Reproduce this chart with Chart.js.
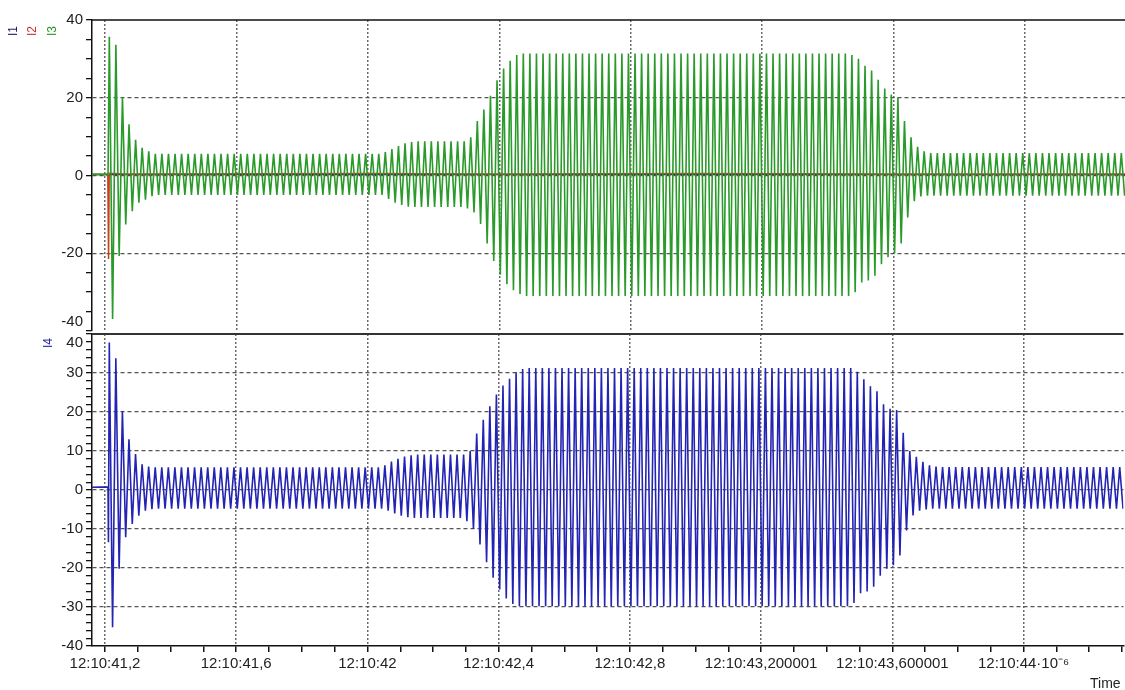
<!DOCTYPE html>
<html>
<head>
<meta charset="utf-8">
<script src="https://cdn.jsdelivr.net/npm/chart.js@4.4.1/dist/chart.umd.min.js"></script>
<style>
  html, body { margin:0; padding:0; background:#fff; }
  #wrap { position:relative; width:1125px; height:690px; overflow:hidden; font-family:"Liberation Sans", Arial, sans-serif; }
  #top-box { position:absolute; left:0; top:0; }
  #bot-box { position:absolute; left:0; top:313px; }
  .ch-name { position:absolute; font-size:12px; line-height:12px; white-space:nowrap; transform:translate(-50%,-50%) rotate(-90deg); }
  #time-label { position:absolute; left:1090px; top:675px; font-size:14px; line-height:16px; color:#222; }
</style>
</head>
<body>
<div id="wrap">
  <canvas id="top-box" width="1125" height="352"></canvas>
  <canvas id="bot-box" width="1125" height="377"></canvas>
  <div class="ch-name" style="left:13px;top:31px;color:#1a1a6e">I1</div>
  <div class="ch-name" style="left:32px;top:31px;color:#c83232">I2</div>
  <div class="ch-name" style="left:52px;top:31px;color:#2a9a2a">I3</div>
  <div class="ch-name" style="left:48px;top:343px;color:#2828a8">I4</div>
  <div id="time-label">Time</div>
</div>
<script>
// time axis (seconds of 12:10)
const X_MIN = 41.1604, X_MAX = 44.3043;
const timeTicks  = [41.2, 41.6, 42.0, 42.4, 42.8, 43.2, 43.6, 44.0];
const timeLabels = ['12:10:41,2', '12:10:41,6', '12:10:42', '12:10:42,4', '12:10:42,8',
                    '12:10:43,200001', '12:10:43,600001', '12:10:44\u00b710\u207b\u2076'];

// waveform: first peak time and half period (50 Hz)
const firstPeakTime = 41.2131;
const halfPeriod = 0.01;

// I3 (top panel, green): values before the first peak, then peak / trough of every cycle
const i3Lead = [[41.16, 0.3], [41.2092, 0.3]];
const i3Peaks = [
  35.7, 33.6, 20.1, 13.2, 9.2, 7.1, 6.2, 5.6, 5.6, 5.6,
  5.6, 5.6, 5.6, 5.6, 5.6, 5.6, 5.6, 5.6, 5.6, 5.6,
  5.6, 5.6, 5.6, 5.6, 5.6, 5.6, 5.6, 5.6, 5.6, 5.6,
  5.6, 5.6, 5.6, 5.6, 5.6, 5.6, 5.6, 5.6, 5.6, 5.6,
  5.6, 5.6, 6.0, 6.8, 7.6, 8.3, 8.6, 8.8, 8.8, 8.8,
  8.8, 8.8, 8.8, 8.8, 8.8, 9.8, 14.0, 17.0, 20.5, 24.5,
  27.5, 29.5, 31.0, 31.4, 31.4, 31.4, 31.4, 31.4, 31.4, 31.4,
  31.4, 31.4, 31.4, 31.4, 31.4, 31.4, 31.4, 31.4, 31.4, 31.4,
  31.4, 31.4, 31.4, 31.4, 31.4, 31.4, 31.4, 31.4, 31.4, 31.4,
  31.4, 31.4, 31.4, 31.4, 31.4, 31.4, 31.4, 31.4, 31.4, 31.4,
  31.4, 31.4, 31.4, 31.4, 31.4, 31.4, 31.4, 31.4, 31.4, 31.4,
  31.4, 31.4, 31.4, 31.0, 30.0, 28.2, 27.0, 24.6, 22.4, 20.8,
  20.0, 14.0, 9.8, 7.4, 6.2, 5.8, 5.8, 5.8, 5.8, 5.8,
  5.8, 5.8, 5.8, 5.8, 5.8, 5.8, 5.8, 5.8, 5.8, 5.8,
  5.8, 5.8, 5.8, 5.8, 5.8, 5.8, 5.8, 5.8, 5.8, 5.8,
  5.8, 5.8, 5.8, 5.8, 5.8
];
const i3Troughs = [
  -36.9, -20.7, -12.6, -9.2, -7.0, -6.2, -5.3, -5.0, -5.0, -5.0,
  -5.0, -5.0, -5.0, -5.0, -5.0, -5.0, -5.0, -5.0, -5.0, -5.0,
  -5.0, -5.0, -5.0, -5.0, -5.0, -5.0, -5.0, -5.0, -5.0, -5.0,
  -5.0, -5.0, -5.0, -5.0, -5.0, -5.0, -5.0, -5.0, -5.0, -5.0,
  -5.0, -5.0, -6.0, -7.0, -7.6, -8.0, -8.1, -8.1, -8.1, -8.1,
  -8.1, -8.1, -8.1, -8.1, -8.5, -9.5, -12.5, -17.5, -22.0, -25.5,
  -28.0, -29.5, -30.5, -31.0, -31.0, -31.0, -31.0, -31.0, -31.0, -31.0,
  -31.0, -31.0, -31.0, -31.0, -31.0, -31.0, -31.0, -31.0, -31.0, -31.0,
  -31.0, -31.0, -31.0, -31.0, -31.0, -31.0, -31.0, -31.0, -31.0, -31.0,
  -31.0, -31.0, -31.0, -31.0, -31.0, -31.0, -31.0, -31.0, -31.0, -31.0,
  -31.0, -31.0, -31.0, -31.0, -31.0, -31.0, -31.0, -31.0, -31.0, -31.0,
  -31.0, -31.0, -31.0, -30.0, -27.5, -27.0, -25.8, -22.8, -21.0, -20.0,
  -17.5, -10.8, -6.6, -5.4, -5.2, -5.2, -5.2, -5.2, -5.2, -5.2,
  -5.2, -5.2, -5.2, -5.2, -5.2, -5.2, -5.2, -5.2, -5.2, -5.2,
  -5.2, -5.2, -5.2, -5.2, -5.2, -5.2, -5.2, -5.2, -5.2, -5.2,
  -5.2, -5.2, -5.2, -5.2, -5.2
];

// I1 / I2 stay near zero; I2 has one spike at the switching instant
const i1Times  = [41.16, 44.31];
const i1Values = [0.2, 0.2];
const i2Times  = [41.16, 41.2085, 41.2108, 41.2128, 41.26, 42.0, 42.4, 43.0, 43.6, 44.31];
const i2Values = [0.3, 0.3, -21.5, 0.6, 0.4, 0.5, 0.4, 0.5, 0.4, 0.4];

// I4 (bottom panel, blue)
const i4Lead = [[41.16, 0.7], [41.2092, 0.8], [41.2105, -13.4]];
const i4Peaks = [
  37.8, 33.8, 20.2, 13.0, 9.2, 6.6, 6.0, 5.8, 5.8, 5.8,
  5.8, 5.8, 5.8, 5.8, 5.8, 5.8, 5.8, 5.8, 5.8, 5.8,
  5.8, 5.8, 5.8, 5.8, 5.8, 5.8, 5.8, 5.8, 5.8, 5.8,
  5.8, 5.8, 5.8, 5.8, 5.8, 5.8, 5.8, 5.8, 5.8, 5.8,
  5.8, 5.8, 6.3, 7.3, 8.0, 8.6, 8.9, 9.1, 9.1, 9.1,
  9.1, 9.1, 9.1, 9.1, 9.1, 10.0, 14.5, 18.0, 21.5, 24.5,
  26.8, 28.5, 30.2, 31.0, 31.3, 31.3, 31.3, 31.3, 31.3, 31.3,
  31.3, 31.3, 31.3, 31.3, 31.3, 31.3, 31.3, 31.3, 31.3, 31.3,
  31.3, 31.3, 31.3, 31.3, 31.3, 31.3, 31.3, 31.3, 31.3, 31.3,
  31.3, 31.3, 31.3, 31.3, 31.3, 31.3, 31.3, 31.3, 31.3, 31.3,
  31.3, 31.3, 31.3, 31.3, 31.3, 31.3, 31.3, 31.3, 31.3, 31.3,
  31.3, 31.3, 31.3, 31.3, 30.3, 28.4, 26.6, 25.3, 22.0, 20.8,
  20.5, 14.7, 10.0, 8.5, 7.2, 6.3, 6.0, 5.9, 5.9, 5.9,
  5.9, 5.9, 5.9, 5.9, 5.9, 5.9, 5.9, 5.9, 5.9, 5.9,
  5.9, 5.9, 5.9, 5.9, 5.9, 5.9, 5.9, 5.9, 5.9, 5.9,
  5.9, 5.9, 5.9, 5.9, 5.9
];
const i4Troughs = [
  -35.2, -20.2, -12.1, -8.7, -6.6, -5.3, -4.9, -4.8, -4.8, -4.8,
  -4.8, -4.8, -4.8, -4.8, -4.8, -4.8, -4.8, -4.8, -4.8, -4.8,
  -4.8, -4.8, -4.8, -4.8, -4.8, -4.8, -4.8, -4.8, -4.8, -4.8,
  -4.8, -4.8, -4.8, -4.8, -4.8, -4.8, -4.8, -4.8, -4.8, -4.8,
  -4.8, -4.8, -5.3, -6.0, -6.6, -7.0, -7.2, -7.2, -7.2, -7.2,
  -7.2, -7.2, -7.2, -7.2, -8.0, -10.0, -14.0, -18.5, -22.5, -25.5,
  -27.8, -29.2, -29.8, -29.8, -29.8, -29.8, -29.8, -29.8, -29.8, -29.8,
  -29.8, -29.8, -29.8, -29.8, -29.8, -29.8, -29.8, -29.8, -29.8, -29.8,
  -29.8, -29.8, -29.8, -29.8, -29.8, -29.8, -29.8, -29.8, -29.8, -29.8,
  -29.8, -29.8, -29.8, -29.8, -29.8, -29.8, -29.8, -29.8, -29.8, -29.8,
  -29.8, -29.8, -29.8, -29.8, -29.8, -29.8, -29.8, -29.8, -29.8, -29.8,
  -29.8, -29.8, -29.8, -29.0, -26.5, -26.0, -24.8, -22.0, -20.2, -19.3,
  -16.8, -10.4, -6.5, -5.3, -5.0, -4.8, -4.8, -4.8, -4.8, -4.8,
  -4.8, -4.8, -4.8, -4.8, -4.8, -4.8, -4.8, -4.8, -4.8, -4.8,
  -4.8, -4.8, -4.8, -4.8, -4.8, -4.8, -4.8, -4.8, -4.8, -4.8,
  -4.8, -4.8, -4.8, -4.8, -4.8
];

const FONT = '"Liberation Sans", Arial, sans-serif';
const TXT = '#222';

function wave(lead, peaks, troughs){
  const pts = lead.map(([x, y]) => ({ x, y }));
  for(let k = 0; k < peaks.length; k++){
    pts.push({ x: firstPeakTime + 2*k*halfPeriod, y: peaks[k] });
    pts.push({ x: firstPeakTime + (2*k+1)*halfPeriod, y: troughs[k] });
  }
  return pts;
}
const pairs = (xs, ys) => xs.map((x, i) => ({ x, y: ys[i] }));

function tickSet(from, to, step){
  const out = [];
  for(let v = from; v <= to + 1e-9; v += step) out.push({ value: +v.toFixed(2) });
  return out;
}
const isMajorX = v => timeTicks.some(t => Math.abs(t - v) < 1e-6);
const xGridColor = c => (c.tick && isMajorX(c.tick.value)) ? '#6a6a6a' : 'rgba(0,0,0,0)';
const xLabel = v => { const k = timeTicks.findIndex(t => Math.abs(t - v) < 1e-6); return k >= 0 ? timeLabels[k] : ''; };

// solid line along the top of each panel
const topRule = {
  id:'topRule',
  afterDraw(chart, args, opts){
    const { ctx, chartArea:a } = chart;
    ctx.save();
    ctx.strokeStyle = opts.color; ctx.lineWidth = opts.width;
    ctx.beginPath(); ctx.moveTo(a.left, a.top); ctx.lineTo(a.right, a.top); ctx.stroke();
    ctx.restore();
  }
};

function line(label, data, color, order, width){
  return { label, data, borderColor:color, backgroundColor:color, borderWidth:width, pointRadius:0, tension:0, order };
}

function yAxis(step, labelFn, majorFn){
  return {
    min:-40, max:40,
    afterBuildTicks: s => { s.ticks = tickSet(-40, 40, step); },
    afterFit: s => { s.width = 92; },
    ticks:{ font:{ family:FONT, size:15 }, color:TXT, padding:3, autoSkip:false, callback:labelFn },
    grid:{ color: c => (c.tick && majorFn(c.tick.value)) ? '#555' : 'rgba(0,0,0,0)', lineWidth:1.3, tickColor:'#111', tickLength:6 },
    border:{ color:'#111', width:1.5, dash:[4,3] }
  };
}

const common = {
  responsive:false, animation:false, devicePixelRatio:1,
  plugins:{ legend:{ display:false }, tooltip:{ enabled:false } }
};

new Chart(document.getElementById('top-box'), {
  type:'line',
  data:{ datasets:[
    line('I1', pairs(i1Times, i1Values), '#1a1a6e', 3, 1.2),
    line('I2', pairs(i2Times, i2Values), '#c8401e', 2, 1.5),
    line('I3', wave(i3Lead, i3Peaks, i3Troughs), '#2a9a2a', 1, 1.6)
  ]},
  options:{ ...common,
    layout:{ padding:{ top:20, bottom:20, left:0, right:0 } },
    plugins:{ ...common.plugins, topRule:{ color:'#111', width:1.5 } },
    scales:{
      x:{ type:'linear', min:X_MIN, max:X_MAX,
          afterBuildTicks: s => { s.ticks = tickSet(41.2, 44.3, 0.1); },
          afterFit: s => { s.height = 0; },
          ticks:{ display:false },
          grid:{ color:xGridColor, lineWidth:1.5, drawTicks:false },
          border:{ display:false, dash:[2,2] } },
      y: yAxis(5, v => v === -40 ? ['-40', ''] : (v % 20 === 0 ? String(v) : ''),
                  v => Math.abs(v) < 40 && v % 20 === 0)
    }
  },
  plugins:[topRule]
});

new Chart(document.getElementById('bot-box'), {
  type:'line',
  data:{ datasets:[ line('I4', wave(i4Lead, i4Peaks, i4Troughs), '#2424b4', 1, 1.6) ] },
  options:{ ...common,
    layout:{ padding:{ top:20, bottom:0, left:0, right:0 } },
    plugins:{ ...common.plugins, topRule:{ color:'#333', width:2 } },
    scales:{
      x:{ type:'linear', min:X_MIN, max:X_MAX,
          afterBuildTicks: s => { s.ticks = tickSet(41.2, 44.3, 0.1); },
          afterFit: s => { s.height = 44; },
          ticks:{ font:{ family:FONT, size:15 }, color:TXT, padding:3, autoSkip:false, maxRotation:0, callback:xLabel },
          grid:{ color:xGridColor, lineWidth:1.5, tickColor:'#111', tickLength:6 },
          border:{ display:true, color:'#111', width:1.5, dash:[2,2] } },
      y: yAxis(2, v => v === 40 ? ['', '40'] : (v % 10 === 0 ? String(v) : ''),
                  v => Math.abs(v) < 40 && v % 10 === 0)
    }
  },
  plugins:[topRule]
});
</script>
</body>
</html>
